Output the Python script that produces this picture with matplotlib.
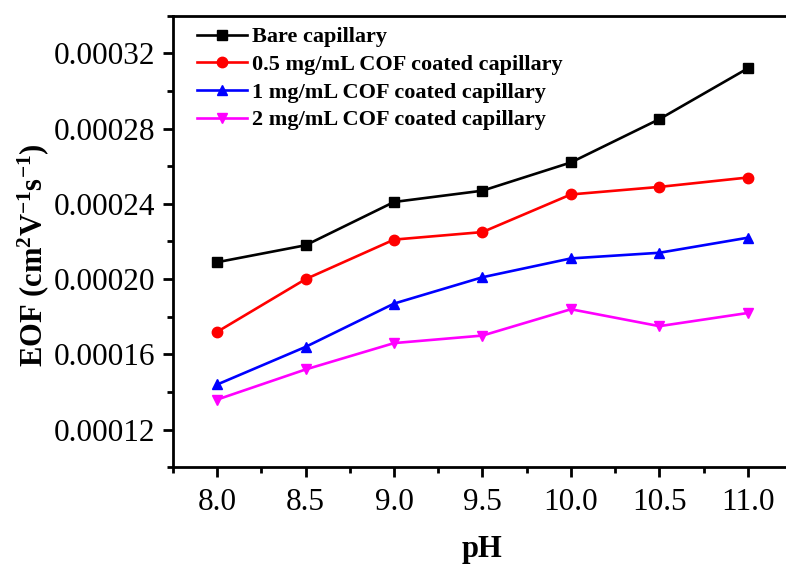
import matplotlib
matplotlib.use("Agg")
import matplotlib.pyplot as plt
from matplotlib.ticker import MultipleLocator, FuncFormatter

plt.rcParams['font.family'] = ['Liberation Serif', 'DejaVu Serif']
plt.rcParams['mathtext.fontset'] = 'custom'
plt.rcParams['mathtext.rm'] = 'Liberation Serif'
plt.rcParams['mathtext.bf'] = 'Liberation Serif:bold'
plt.rcParams['mathtext.it'] = 'Liberation Serif:italic'

ph = [8.0, 8.5, 9.0, 9.5, 10.0, 10.5, 11.0]
bare = [0.000209, 0.000218, 0.000241, 0.000247, 0.000262, 0.000285, 0.000312]
cof05 = [0.000172, 0.000200, 0.000221, 0.000225, 0.000245, 0.000249, 0.000254]
cof1 = [0.000144, 0.000164, 0.000187, 0.000201, 0.000211, 0.000214, 0.000222]
cof2 = [0.000136, 0.000152, 0.000166, 0.000170, 0.000184, 0.000175, 0.000182]
labels = ["Bare capillary", "0.5 mg/mL COF coated capillary",
          "1 mg/mL COF coated capillary", "2 mg/mL COF coated capillary"]

fig = plt.figure(figsize=(7.86, 5.66), dpi=100)
ax = fig.add_axes([0.2201, 0.1744, 0.7875, 0.7979])

series = [(bare, 'black', 's'), (cof05, '#ff0000', 'o'),
          (cof1, '#0000ff', '^'), (cof2, '#ff00ff', 'v')]
for (vals, col, mk), lab in zip(series, labels):
    ax.plot(ph, vals, color=col, marker=mk, markersize=7.5, linewidth=1.9, label=lab)

ax.set_xlim(7.75, 11.25)
ax.set_ylim(0.0001, 0.00034)
ax.xaxis.set_major_locator(MultipleLocator(0.5))
ax.xaxis.set_minor_locator(MultipleLocator(0.25))
ax.yaxis.set_major_locator(MultipleLocator(0.00004))
ax.yaxis.set_minor_locator(MultipleLocator(0.00002))
ax.yaxis.set_major_formatter(FuncFormatter(lambda v, p: f"{v:.5f}"))
ax.xaxis.set_major_formatter(FuncFormatter(lambda v, p: f"{v:.1f}"))

for s in ax.spines.values():
    s.set_linewidth(2)
ax.tick_params(which='major', direction='out', length=7, width=2, labelsize=22.5)
ax.tick_params(which='minor', direction='out', length=4, width=2)
ax.tick_params(axis='x', pad=8)
ax.tick_params(axis='y', pad=6)

ax.set_xlabel("pH", fontsize=22, fontweight='bold', labelpad=13)
ax.set_ylabel(r"EOF (cm$^{\mathbf{2}}$V$^{\mathbf{-1}}$s$^{\mathbf{-1}}$)",
              fontsize=22, fontweight='bold')
ax.yaxis.set_label_coords(-0.197, 0.47)

ax.legend(loc='upper left', frameon=False, prop={'size': 16, 'weight': 'bold'},
          handlelength=2.25, handletextpad=0.25, labelspacing=0.32,
          borderaxespad=0.0, bbox_to_anchor=(0.024, 0.995))

fig.savefig("out.png", dpi=100)
